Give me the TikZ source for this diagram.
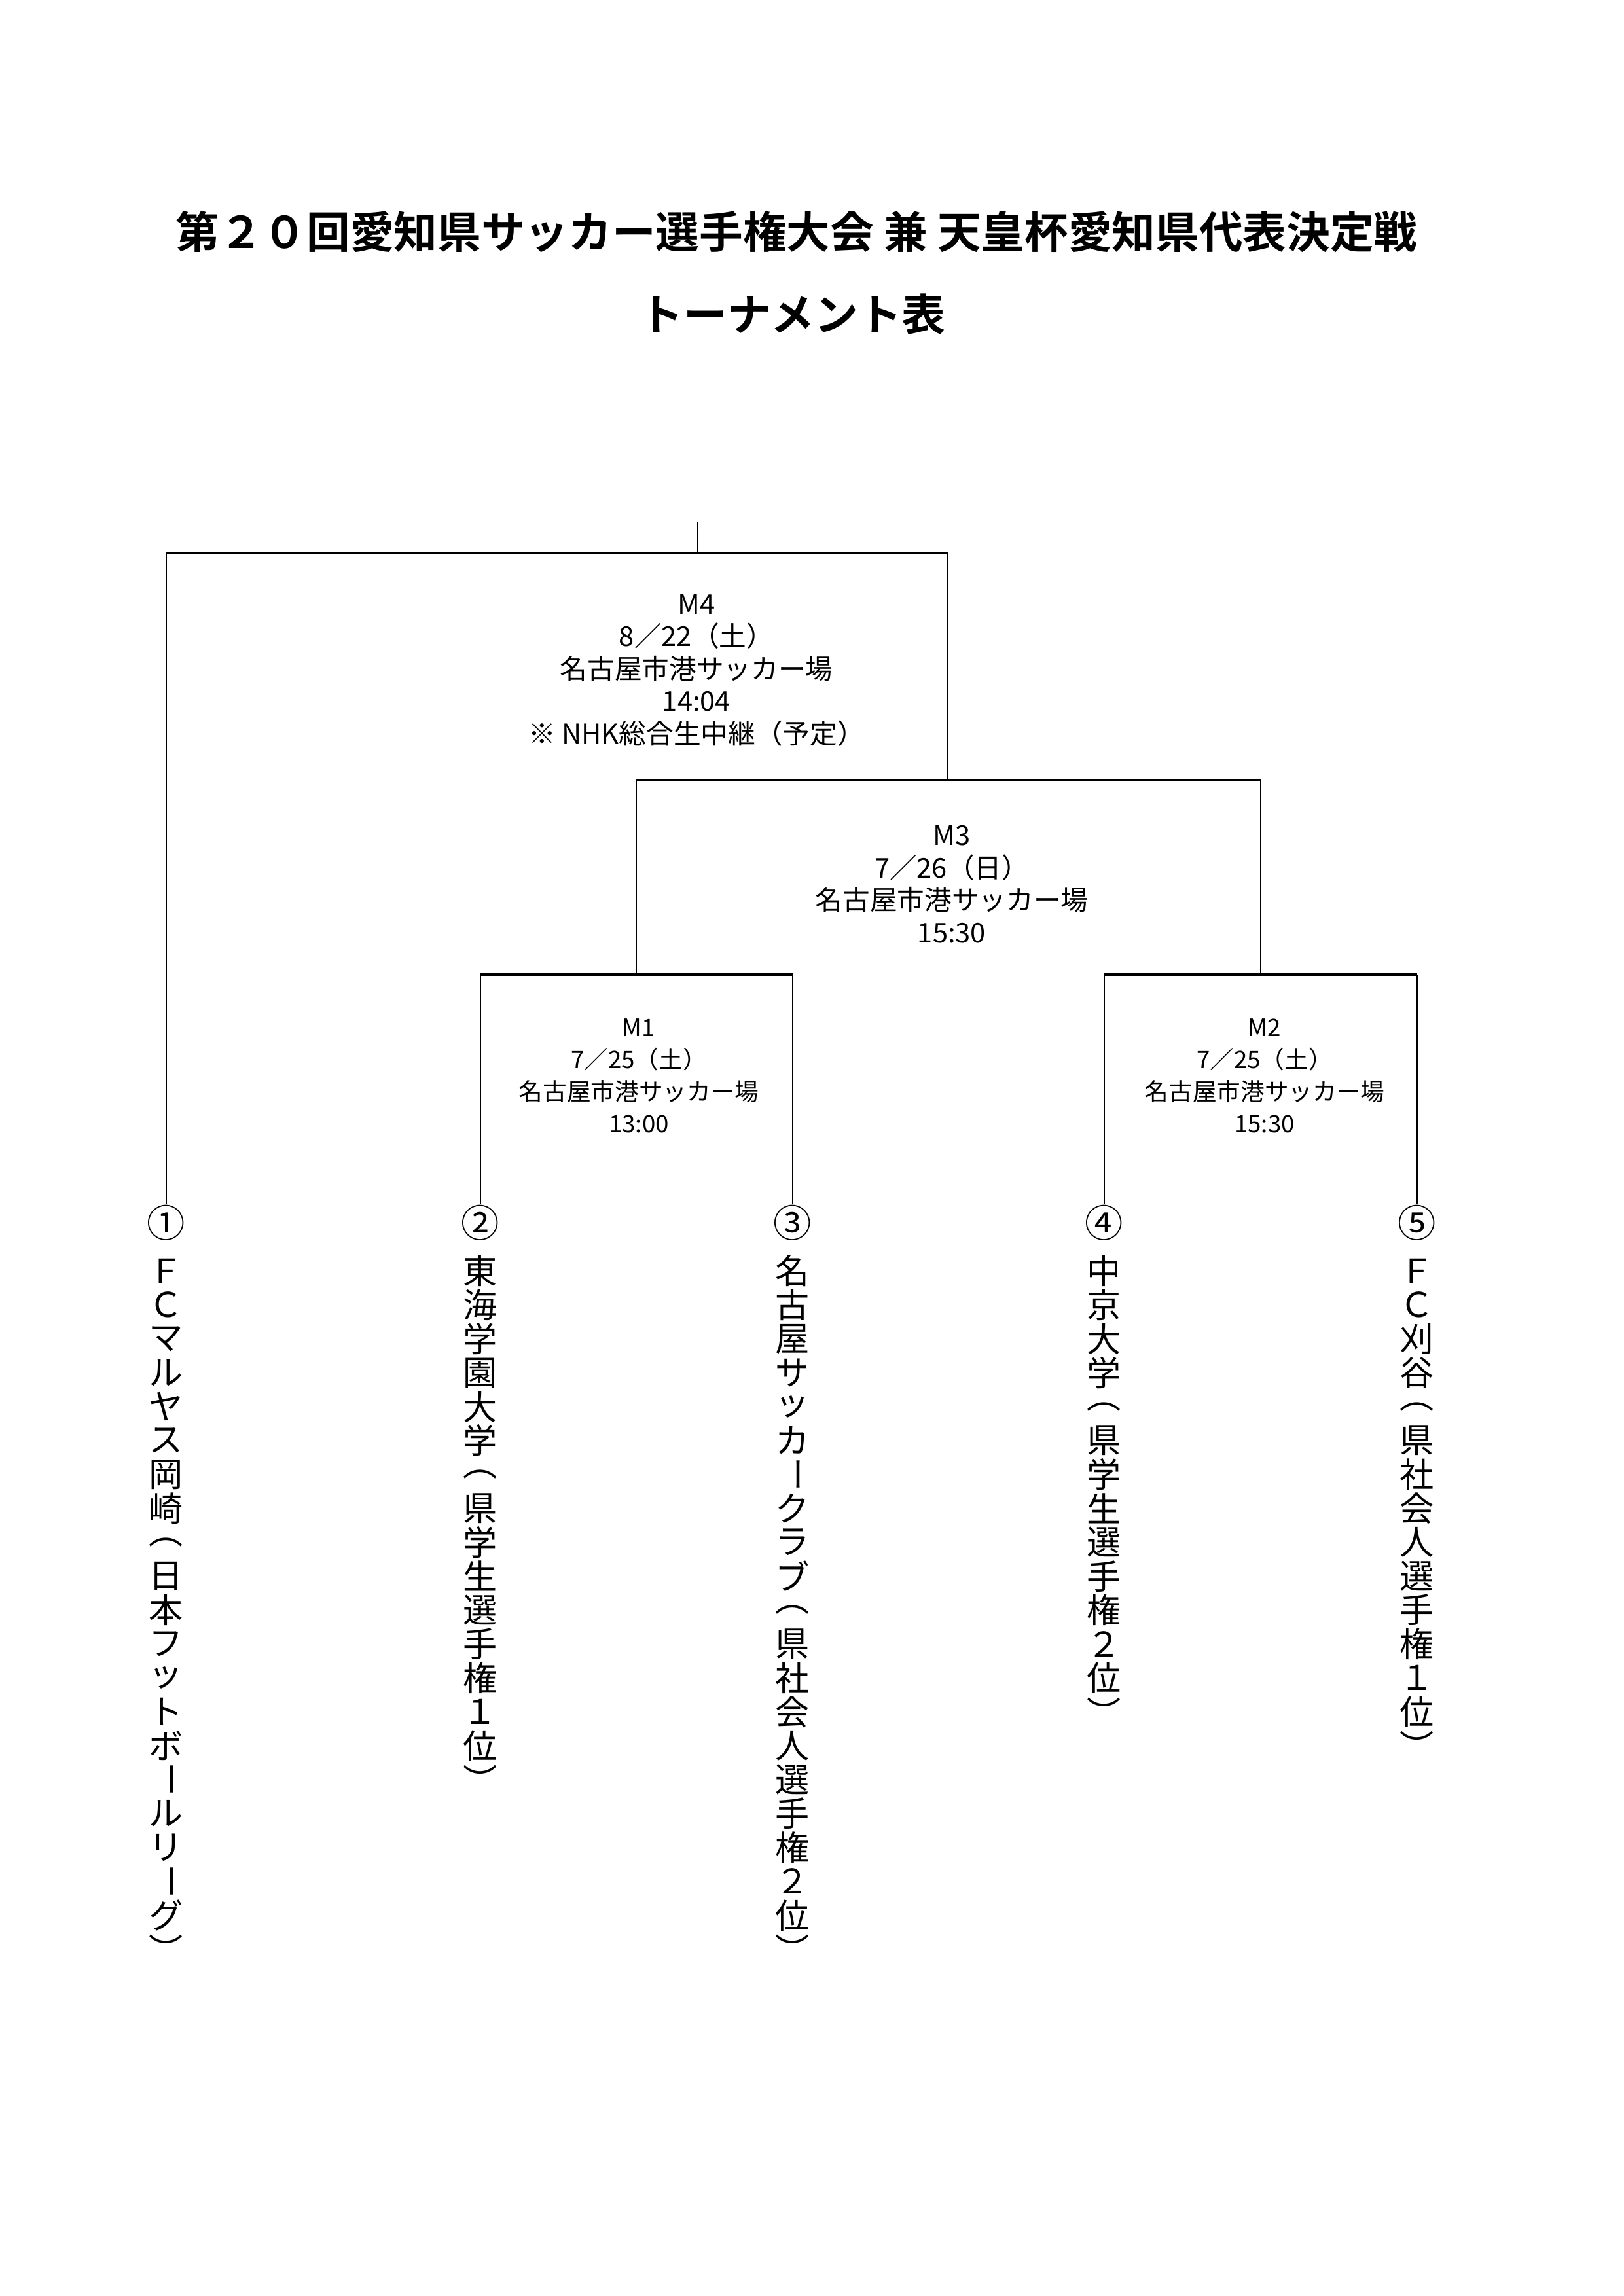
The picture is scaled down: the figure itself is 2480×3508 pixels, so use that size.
\documentclass[tikz,border=0pt]{standalone}
\usepackage{fontspec}
\usepackage{graphicx}
\setmainfont{Noto Sans CJK JP}
\newfontfamily\titlefont{Noto Sans CJK JP Bold}
\newcommand\vbar{\rotatebox[origin=c]{-90}{ー}}
\begin{document}
\begin{tikzpicture}[x=0.24pt,y=-0.24pt,
  hbar/.style={line width=0.85pt},
  vline/.style={line width=0.5pt},
  info/.style={align=center,inner sep=0pt,font=\fontsize{10}{11.9}\selectfont},
  sinfo/.style={align=center,inner sep=0pt,font=\fontsize{8.8}{11.8}\selectfont},
  seed/.style={inner sep=0pt,font=\fontsize{14}{14}\selectfont},
  vch/.style={inner sep=0pt,font=\fontsize{12.5}{12.5}\selectfont}]
\useasboundingbox[fill=white] (0,0) rectangle (2480,3508);
\node[inner sep=0pt,font=\titlefont\fontsize{16}{16}\selectfont] (title1) at (1217,354) {第２０回愛知県サッカー選手権大会 兼 天皇杯愛知県代表決定戦};
\node[inner sep=0pt,font=\titlefont\fontsize{16}{16}\selectfont] (title2) at (1211,480) {トーナメント表};
% seeds
\node[seed] (s1) at (254,1868) {①};
\node[seed] (s2) at (734,1868) {②};
\node[seed] (s3) at (1211,1868) {③};
\node[seed] (s4) at (1687,1868) {④};
\node[seed] (s5) at (2165,1868) {⑤};
% bracket coordinates
\coordinate (m1l) at (734,1489); \coordinate (m1r) at (1211,1489); \coordinate (m1c) at (972,1489);
\coordinate (m2l) at (1687,1489); \coordinate (m2r) at (2165,1489); \coordinate (m2c) at (1926,1489);
\coordinate (m3l) at (972,1192); \coordinate (m3r) at (1926,1192); \coordinate (m3c) at (1448,1192);
\coordinate (m4l) at (254,845); \coordinate (m4r) at (1448,845); \coordinate (m4c) at (1066,845);
\coordinate (top) at (1066,797);
\draw[vline] (s1.north) -- (m4l);
\draw[vline] (s2.north) -- (m1l);
\draw[vline] (s3.north) -- (m1r);
\draw[vline] (s4.north) -- (m2l);
\draw[vline] (s5.north) -- (m2r);
\draw[vline] (m1c) -- (m3l);
\draw[vline] (m2c) -- (m3r);
\draw[vline] (m3c) -- (m4r);
\draw[vline] (m4c) -- (top);
\draw[hbar] (m1l) -- (m1r);
\draw[hbar] (m2l) -- (m2r);
\draw[hbar] (m3l) -- (m3r);
\draw[hbar] (m4l) -- (m4r);
% match info
\node[info] (i4) at (1064,1024) {M4\\8／22（土）\\名古屋市港サッカー場\\14:04\\※ NHK総合生中継（予定）};
\node[info] (i3) at (1454,1351) {M3\\7／26（日）\\名古屋市港サッカー場\\15:30};
\node[sinfo] (i1) at (976,1644) {M1\\7／25（土）\\名古屋市港サッカー場\\13:00};
\node[sinfo] (i2) at (1932,1644) {M2\\7／25（土）\\名古屋市港サッカー場\\15:30};
% team names (vertical)
\foreach \c [count=\i from 0] in {Ｆ,Ｃ,マ,ル,ヤ,ス,岡,崎,︵,日,本,フ,ッ,ト,ボ,\vbar,ル,リ,\vbar,グ,︶}
  \node[vch] (t1-\i) at (254,1942+51.8*\i) {\c};
\foreach \c [count=\i from 0] in {東,海,学,園,大,学,︵,県,学,生,選,手,権,１,位,︶}
  \node[vch] (t2-\i) at (734,1942+51.8*\i) {\c};
\foreach \c [count=\i from 0] in {名,古,屋,サ,ッ,カ,\vbar,ク,ラ,ブ,︵,県,社,会,人,選,手,権,２,位,︶}
  \node[vch] (t3-\i) at (1211,1942+51.8*\i) {\c};
\foreach \c [count=\i from 0] in {中,京,大,学,︵,県,学,生,選,手,権,２,位,︶}
  \node[vch] (t4-\i) at (1687,1942+51.8*\i) {\c};
\foreach \c [count=\i from 0] in {Ｆ,Ｃ,刈,谷,︵,県,社,会,人,選,手,権,１,位,︶}
  \node[vch] (t5-\i) at (2165,1942+51.8*\i) {\c};
\end{tikzpicture}
\end{document}
